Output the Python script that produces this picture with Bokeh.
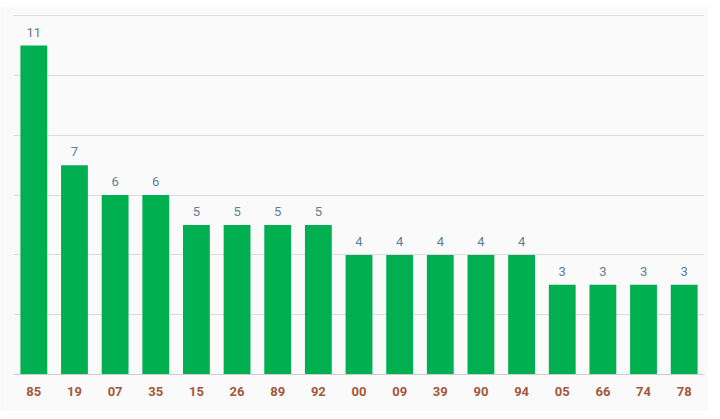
from bokeh.plotting import figure
from bokeh.models import ColumnDataSource, FixedTicker
from bokeh.core.properties import value
from bokeh.embed import file_html
from bokeh.resources import INLINE

categories = ["85", "19", "07", "35", "15", "26", "89", "92", "00", "09", "39", "90", "94", "05", "66", "74", "78"]
counts = [11, 7, 6, 6, 5, 5, 5, 5, 4, 4, 4, 4, 4, 3, 3, 3, 3]
y_ticks = [0, 2, 4, 6, 8, 10, 12]

src = ColumnDataSource(dict(cat=categories, val=counts, lab=[str(v) for v in counts]))

p = figure(x_range=categories, y_range=(0, 12.04), width=708, height=405,
           output_backend="svg", toolbar_location=None,
           min_border_left=13, min_border_right=4, min_border_top=8, min_border_bottom=37)
p.margin = (6, 0, 0, 0)
p.background_fill_color = "#fafafa"
p.border_fill_color = "#fafafa"
p.outline_line_color = None

p.vbar(x="cat", top="val", width=0.66, source=src, color="#00af50", line_color=None)
p.text(x="cat", y="val", text="lab", source=src, text_align="center", text_baseline="bottom",
       y_offset=-9, text_font=value("Roboto"), text_font_size="13px", text_color="#5e7f96")

p.yaxis.visible = False
p.ygrid.ticker = FixedTicker(ticks=y_ticks)
p.ygrid.grid_line_color = "#dcdcdc"
p.xgrid.grid_line_color = None

p.xaxis.axis_line_color = "#cccccc"
p.xaxis.major_tick_line_color = None
p.xaxis.minor_tick_line_color = None
p.xaxis.major_label_standoff = 6
p.xaxis.major_label_text_font = "Roboto"
p.xaxis.major_label_text_font_style = "bold"
p.xaxis.major_label_text_font_size = "13px"
p.xaxis.major_label_text_color = "#a5573a"

open("out.html", "w").write(file_html(p, INLINE))
